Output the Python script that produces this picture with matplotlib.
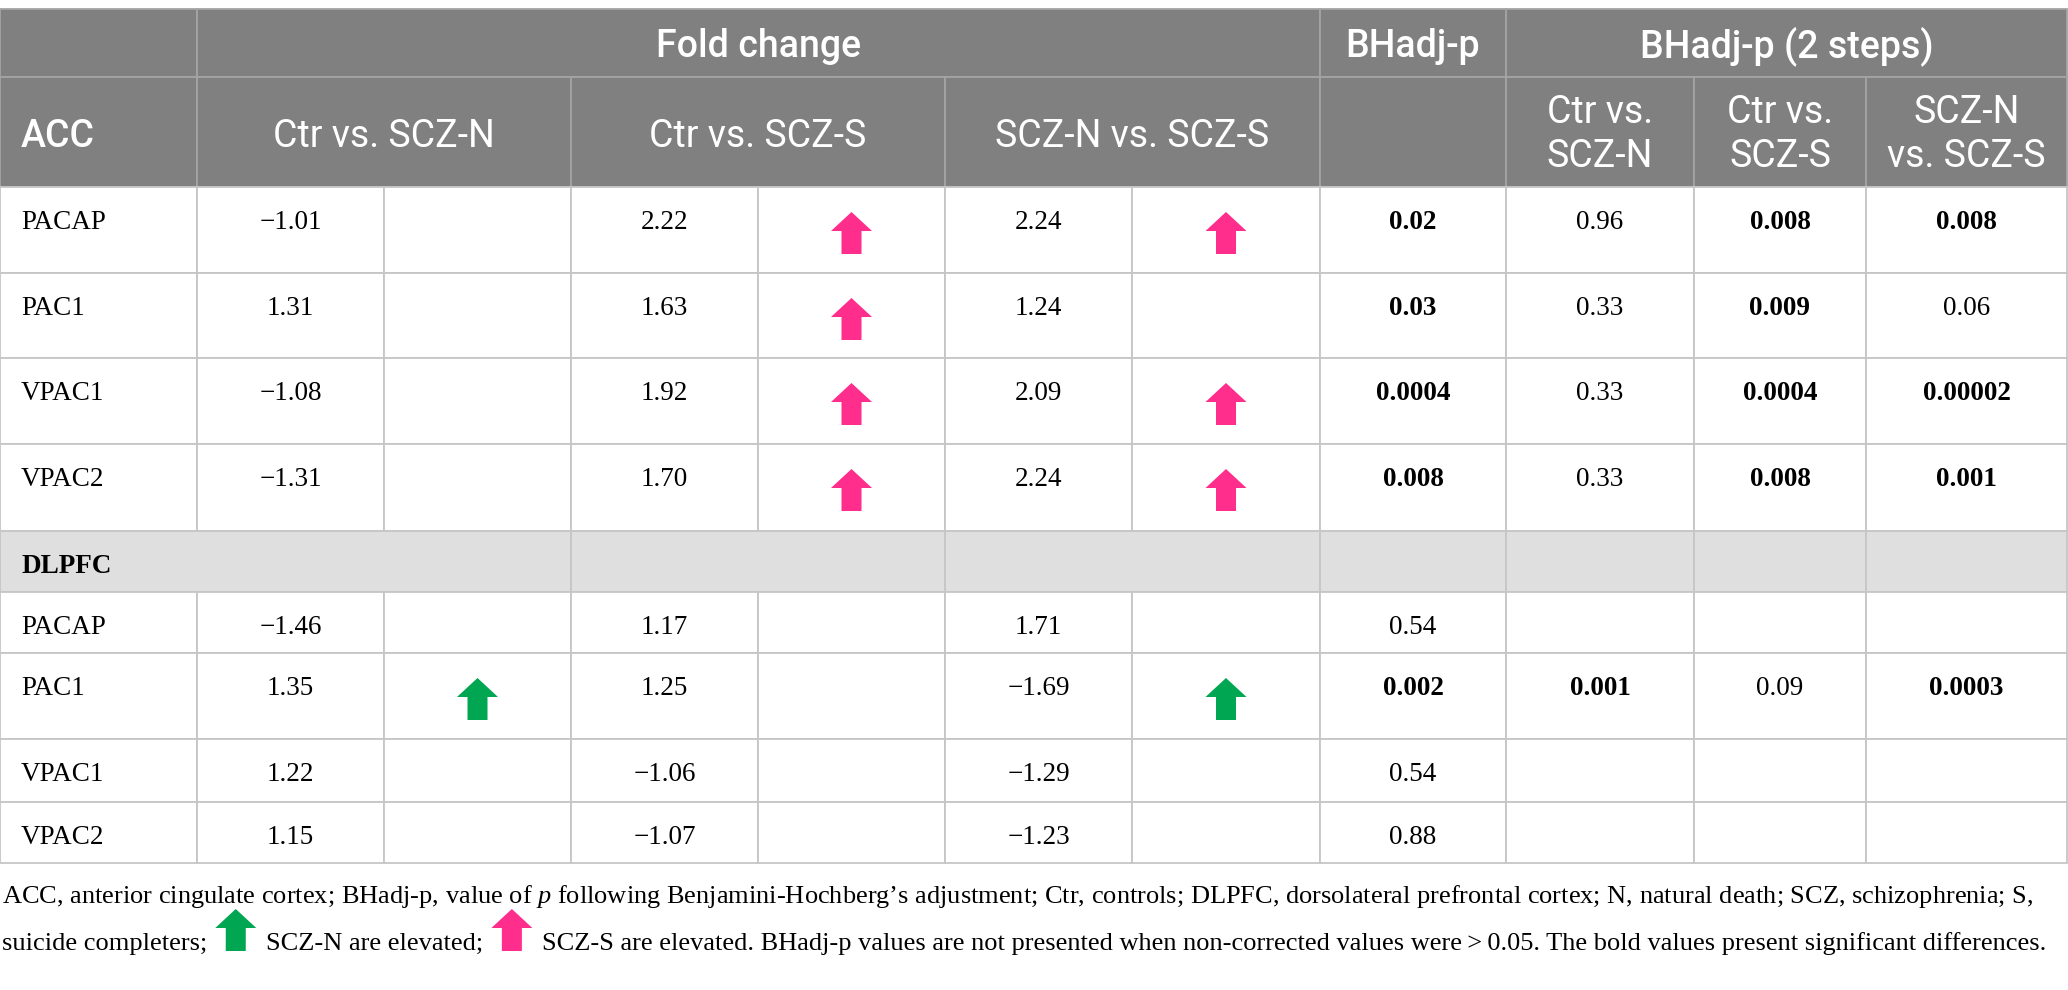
import matplotlib
matplotlib.use('Agg')
import matplotlib.pyplot as plt
from matplotlib.patches import Rectangle, Polygon
import numpy as np

plt.rcParams['mathtext.fontset'] = 'custom'
plt.rcParams['mathtext.rm'] = 'Liberation Serif'
plt.rcParams['mathtext.it'] = 'Liberation Serif:italic'

# ======================================
# DATA
genes = ['PACAP', 'PAC1', 'VPAC1', 'VPAC2']

# ACC: fold change and arrows ('S' = SCZ-S elevated, 'N' = SCZ-N elevated)
acc_fc_n = ['\u22121.01', '1.31', '\u22121.08', '\u22121.31']
acc_ar_n = ['', '', '', '']
acc_fc_s = ['2.22', '1.63', '1.92', '1.70']
acc_ar_s = ['S', 'S', 'S', 'S']
acc_fc_ns = ['2.24', '1.24', '2.09', '2.24']
acc_ar_ns = ['S', '', 'S', 'S']
acc_bh = ['0.02', '0.03', '0.0004', '0.008']
acc_bh2_n = ['0.96', '0.33', '0.33', '0.33']
acc_bh2_s = ['0.008', '0.009', '0.0004', '0.008']
acc_bh2_ns = ['0.008', '0.06', '0.00002', '0.001']

# DLPFC
dl_fc_n = ['\u22121.46', '1.35', '1.22', '1.15']
dl_ar_n = ['', 'N', '', '']
dl_fc_s = ['1.17', '1.25', '\u22121.06', '\u22121.07']
dl_ar_s = ['', '', '', '']
dl_fc_ns = ['1.71', '\u22121.69', '\u22121.29', '\u22121.23']
dl_ar_ns = ['', 'N', '', '']
dl_bh = ['0.54', '0.002', '0.54', '0.88']
dl_bh2_n = ['', '0.001', '', '']
dl_bh2_s = ['', '0.09', '', '']
dl_bh2_ns = ['', '0.0003', '', '']

head1 = ['', 'Fold change', 'BHadj-p', 'BHadj-p (2 steps)']
head2 = ['ACC', 'Ctr vs. SCZ-N', 'Ctr vs. SCZ-S', 'SCZ-N vs. SCZ-S', '',
         'Ctr vs.\nSCZ-N', 'Ctr vs.\nSCZ-S', 'SCZ-N\nvs. SCZ-S']

note1 = ('ACC, anterior cingulate cortex; BHadj-p, value of $\\it{p}$ following '
         'Benjamini-Hochberg\u2019s adjustment; Ctr, controls; DLPFC, dorsolateral '
         'prefrontal cortex; N, natural death; SCZ, schizophrenia; S,')
note2 = ['suicide completers;', 'N', 'SCZ-N are elevated;', 'S',
         'SCZ-S are elevated. BHadj-p values are not presented when non-corrected '
         'values were\u2009>\u20090.05. The bold values present significant differences.']

# ======================================
# LAYOUT / STYLE
W, H = 2068, 990
col_w = [197, 187, 187, 187, 187, 187, 188, 186, 188, 172, 201]
col_x = np.concatenate([[0], np.cumsum(col_w)])
top = 9
head_h = [68, 110]
acc_h = [86, 85, 86, 87]
dl_head_h = 61
dl_h = [61, 86, 63, 61]

HEAD_BG = '#7f807f'
HEAD_LINE = '#a4a4a4'
GRID = '#c6c6c6'
SECT_BG = '#e0dfe0'
ARROW_C = {'S': '#ff2d8c', 'N': '#00a651'}
SANS = ['Roboto', 'DejaVu Sans']
SERIF = ['Liberation Serif', 'DejaVu Serif']

fig = plt.figure(figsize=(W / 100, H / 100), dpi=100)
ax = fig.add_axes([0, 0, 1, 1])
ax.set_xlim(0, W)
ax.set_ylim(H, 0)
ax.axis('off')


def cell(c0, c1, y0, h, fc, ec):
    ax.add_patch(Rectangle((col_x[c0], y0), col_x[c1] - col_x[c0], h,
                           facecolor=fc, edgecolor=ec, lw=1.3))


def mid(c0, c1):
    return (col_x[c0] + col_x[c1]) / 2


def arrow(cx, ytop, key):
    pts = [(cx, ytop), (cx + 20.5, ytop + 19), (cx + 10, ytop + 19),
           (cx + 10, ytop + 42), (cx - 10, ytop + 42), (cx - 10, ytop + 19),
           (cx - 20.5, ytop + 19)]
    ax.add_patch(Polygon(pts, closed=True, facecolor=ARROW_C[key],
                         edgecolor='none', zorder=3))


def is_bold(v):
    return v != '' and float(v) < 0.05


# ======================================
# HEADER
y = top
spans1 = [(0, 1), (1, 7), (7, 8), (8, 11)]
for (c0, c1), lab in zip(spans1, head1):
    cell(c0, c1, y, head_h[0], HEAD_BG, HEAD_LINE)
    ax.text(mid(c0, c1), y + 48, lab, ha='center', va='baseline', color='white',
            fontsize=27, family=SANS, fontweight='medium')
y += head_h[0]

spans2 = [(0, 1), (1, 3), (3, 5), (5, 7), (7, 8), (8, 9), (9, 10), (10, 11)]
for (c0, c1), lab in zip(spans2, head2):
    cell(c0, c1, y, head_h[1], HEAD_BG, HEAD_LINE)
    if c0 == 0:
        ax.text(21, y + 70, lab, ha='left', va='baseline', color='white',
                fontsize=27, family=SANS, fontweight='medium')
        continue
    lines = lab.split('\n')
    bases = [70] if len(lines) == 1 else [46, 90]
    for ln, b in zip(lines, bases):
        ax.text(mid(c0, c1), y + b, ln, ha='center', va='baseline', color='white',
                fontsize=27, family=SANS)
y += head_h[1]


# ======================================
# BODY
def body_rows(y, heights, fc_n, ar_n, fc_s, ar_s, fc_ns, ar_ns, bh, b2n, b2s, b2ns):
    for i, g in enumerate(genes):
        h = heights[i]
        for c in range(11):
            cell(c, c + 1, y, h, 'white', GRID)
        ax.text(21, y + 42, g, ha='left', va='baseline', fontsize=19.5, family=SERIF)
        for c, v in zip([1, 3, 5], [fc_n[i], fc_s[i], fc_ns[i]]):
            ax.text(mid(c, c + 1), y + 42, v, ha='center', va='baseline',
                    fontsize=19.5, family=SERIF)
        for c, a in zip([2, 4, 6], [ar_n[i], ar_s[i], ar_ns[i]]):
            if a:
                arrow(mid(c, c + 1), y + 25, a)
        for c, v in zip([7, 8, 9, 10], [bh[i], b2n[i], b2s[i], b2ns[i]]):
            ax.text(mid(c, c + 1), y + 42, v, ha='center', va='baseline',
                    fontsize=19.5, family=SERIF,
                    fontweight='bold' if is_bold(v) else 'normal')
        y += h
    return y


y = body_rows(y, acc_h, acc_fc_n, acc_ar_n, acc_fc_s, acc_ar_s, acc_fc_ns, acc_ar_ns,
              acc_bh, acc_bh2_n, acc_bh2_s, acc_bh2_ns)

# DLPFC section row
for c0, c1 in [(0, 3), (3, 5), (5, 7), (7, 8), (8, 9), (9, 10), (10, 11)]:
    cell(c0, c1, y, dl_head_h, SECT_BG, GRID)
ax.text(21, y + 42, 'DLPFC', ha='left', va='baseline', fontsize=19.5,
        family=SERIF, fontweight='bold')
y += dl_head_h

y = body_rows(y, dl_h, dl_fc_n, dl_ar_n, dl_fc_s, dl_ar_s, dl_fc_ns, dl_ar_ns,
              dl_bh, dl_bh2_n, dl_bh2_s, dl_bh2_ns)

# ======================================
# FOOTNOTE
ax.text(2, y + 40, note1, ha='left', va='baseline', fontsize=19, family=SERIF)

renderer = fig.canvas.get_renderer()
inv = ax.transData.inverted()
x = 2
base2 = y + 87
for part in note2:
    if part in ARROW_C:
        x += 8
        arrow(x + 20.5, base2 - 41, part)
        x += 41 + 10
        continue
    t = ax.text(x, base2, part, ha='left', va='baseline', fontsize=19, family=SERIF)
    bb = t.get_window_extent(renderer)
    x = inv.transform((bb.x1, 0))[0]

fig.savefig('out.png', dpi=100)
